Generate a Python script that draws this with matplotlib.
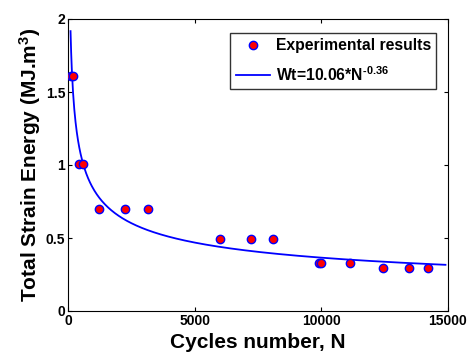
import numpy as np
import matplotlib
matplotlib.use('Agg')
import matplotlib.pyplot as plt

plt.rcParams['font.family'] = ['Liberation Sans', 'DejaVu Sans']
plt.rcParams['font.weight'] = 'bold'
plt.rcParams['mathtext.default'] = 'bf'
plt.rcParams['mathtext.fontset'] = 'custom'
plt.rcParams['mathtext.bf'] = 'Liberation Sans:bold'
plt.rcParams['mathtext.rm'] = 'Liberation Sans:bold'

# experimental points
cycles = [100, 200, 450, 580, 1220, 2260, 3170, 6000, 7210, 8100,
          9910, 9990, 11150, 12450, 13450, 14210]
energy = [1.61, 1.61, 1.01, 1.01, 0.70, 0.70, 0.70, 0.49, 0.49, 0.49,
          0.33, 0.33, 0.33, 0.295, 0.295, 0.295]

# fit Wt = a*N^b
fit_a = 10.06
fit_b = -0.36
n_fit = np.linspace(100, 14900, 600)
w_fit = fit_a * n_fit ** fit_b

fig = plt.figure(figsize=(4.7, 3.52), dpi=100)
ax = fig.add_axes([68 / 470, 1 - 311 / 352, 380 / 470, 292 / 352])

ax.plot(cycles, energy, 'o', color='red', markeredgecolor='blue',
        markersize=6, markeredgewidth=1.0, label='Experimental results', zorder=3)
ax.plot(n_fit, w_fit, color='blue', lw=1.3, label='Wt=10.06*N$^{\\text{-0.36}}$')

ax.set_xlim(0, 15000)
ax.set_ylim(0, 2)
ax.set_xticks([0, 5000, 10000, 15000])
ax.set_yticks([0, 0.5, 1, 1.5, 2])
ax.set_yticklabels(['0', '0.5', '1', '1.5', '2'])
ax.tick_params(direction='in', top=True, right=True, labelsize=10, length=3, pad=2)

ax.set_xlabel('Cycles number, N', fontsize=15, fontweight='bold', labelpad=4)
ax.set_ylabel('Total Strain Energy (MJ.m$^{3}$)', fontsize=15, fontweight='bold', labelpad=2)

leg = ax.legend(loc='upper right', fontsize=11.3, frameon=True, fancybox=False,
                edgecolor='black', borderpad=0.35, handlelength=2.2, labelspacing=0.75,
                handletextpad=0.35, bbox_to_anchor=(0.99, 0.98))
leg.get_frame().set_linewidth(1.0)

plt.savefig('out.png', dpi=100)
plt.close()
